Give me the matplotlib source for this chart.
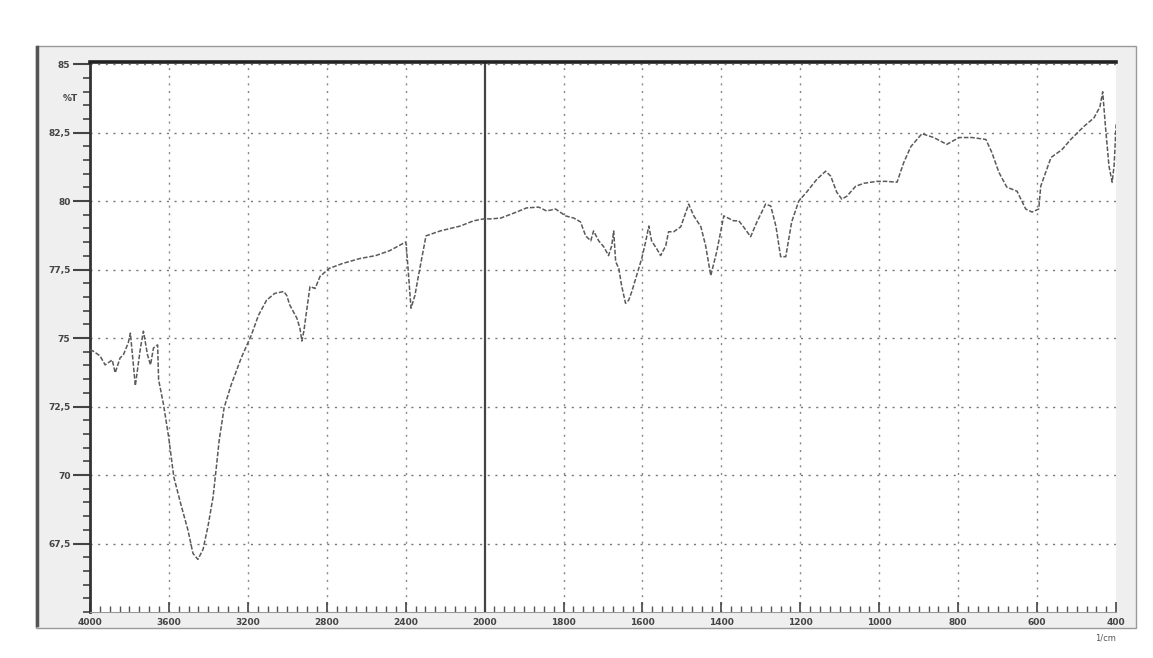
import numpy as np
import matplotlib
matplotlib.use('Agg')
import matplotlib.pyplot as plt
from matplotlib.patches import Rectangle

# FTIR spectrum (wavenumber in 1/cm, %T)
wavenumber = [4000, 3985, 3949, 3923, 3887, 3872, 3847, 3831, 3806, 3795, 3770, 3744,
              3729, 3708, 3693, 3678, 3657, 3652, 3627, 3601, 3575, 3540, 3504, 3478,
              3453, 3427, 3402, 3376, 3361, 3345, 3320, 3284, 3233, 3182, 3146, 3105,
              3064, 3018, 3003, 2987, 2951, 2936, 2926, 2916, 2900, 2885, 2859, 2834,
              2788, 2721, 2634, 2552, 2481, 2399, 2389, 2373, 2353, 2338, 2312, 2297,
              2225, 2123, 2056, 2005,
              1985, 1959, 1919, 1894, 1863, 1843, 1820, 1795, 1774, 1757, 1744, 1731,
              1724, 1711, 1698, 1686, 1678, 1673, 1668, 1660, 1653, 1643, 1635, 1627,
              1615, 1602, 1592, 1584, 1577, 1564, 1554, 1541, 1534, 1521, 1503, 1490,
              1483, 1470, 1452, 1440, 1427, 1412, 1394, 1369, 1356, 1344, 1326, 1310,
              1288, 1275, 1262, 1250, 1237, 1222, 1204, 1184, 1158, 1136, 1123, 1108,
              1095, 1082, 1060, 1039, 1006, 983, 955, 938, 920, 892, 862, 829, 798,
              765, 730, 715, 697, 677, 651, 629, 613, 596, 591, 565, 537, 515, 482,
              456, 441, 434, 427, 418, 410, 405, 400]
transmittance = [74.57, 74.53, 74.35, 74.02, 74.20, 73.73, 74.28, 74.38, 74.82, 75.18, 73.26, 74.64,
                 75.25, 74.38, 74.02, 74.64, 74.75, 73.48, 72.57, 71.38, 69.93, 68.95, 68.01, 67.14,
                 66.92, 67.28, 68.12, 69.20, 70.18, 71.27, 72.46, 73.30, 74.28, 75.11, 75.83, 76.38,
                 76.63, 76.70, 76.56, 76.20, 75.72, 75.36, 74.89, 75.25, 76.09, 76.88, 76.81, 77.25,
                 77.54, 77.72, 77.90, 78.01, 78.19, 78.51, 77.64, 76.09, 76.56, 77.17, 78.15, 78.73,
                 78.91, 79.09, 79.28, 79.35,
                 79.35, 79.38, 79.60, 79.75, 79.78, 79.64, 79.71, 79.46, 79.38, 79.24, 78.73, 78.55,
                 78.91, 78.55, 78.33, 78.01, 78.37, 78.91, 77.79, 77.54, 76.92, 76.27, 76.38, 76.70,
                 77.28, 77.90, 78.51, 79.09, 78.55, 78.26, 78.01, 78.37, 78.88, 78.88, 79.06, 79.60,
                 79.89, 79.46, 79.06, 78.37, 77.28, 78.15, 79.46, 79.28, 79.28, 79.06, 78.70, 79.24,
                 79.89, 79.82, 79.09, 77.97, 77.97, 79.24, 80.00, 80.33, 80.80, 81.09, 80.91, 80.33,
                 80.07, 80.18, 80.54, 80.65, 80.72, 80.72, 80.69, 81.41, 81.99, 82.46, 82.32, 82.07, 82.32,
                 82.32, 82.25, 81.78, 81.05, 80.51, 80.36, 79.71, 79.60, 79.71, 80.54, 81.59, 81.88, 82.25, 82.72,
                 83.04, 83.44, 83.99, 82.72, 81.27, 80.69, 81.30, 82.80]

x_major = [4000, 3600, 3200, 2800, 2400, 2000, 1800, 1600, 1400, 1200, 1000, 800, 600, 400]
y_major = [67.5, 70, 72.5, 75, 77.5, 80, 82.5, 85]
y_labels = ['67,5', '70', '72,5', '75', '77,5', '80', '82,5', '85']


# scale is twice as wide below 2000 1/cm
def fwd(w):
    w = np.asarray(w, dtype=float)
    return np.where(w >= 2000, w, 2 * w - 2000)


def inv(u):
    u = np.asarray(u, dtype=float)
    return np.where(u >= 2000, u, (u + 2000) / 2)


fig = plt.figure(figsize=(11.53, 6.58), dpi=100)
fig.patch.set_facecolor('white')

# scanned paper frame around the chart
fig.patches.append(Rectangle((0.031, 0.045), 0.954, 0.885, transform=fig.transFigure,
                             facecolor='#efefef', edgecolor='#9a9a9a', lw=1.0, zorder=-2))
fig.lines.append(plt.Line2D([0.032, 0.032], [0.05, 0.928], transform=fig.transFigure,
                            color='#555555', lw=2.5, zorder=-1))

ax = fig.add_axes([0.078, 0.0699, 0.890, 0.836])
ax.set_zorder(1)
ax.set_facecolor('white')
ax.set_xscale('function', functions=(fwd, inv))
ax.set_xlim(4000, 400)
ax.set_ylim(65.0, 85.08)

minor_x = list(range(4000, 2000, -50)) + list(range(2000, 399, -25))
ax.set_xticks(x_major)
ax.set_xticklabels([str(v) for v in x_major])
ax.set_xticks(minor_x, minor=True)
ax.set_yticks(y_major)
ax.set_yticklabels(y_labels)
ax.set_yticks(np.arange(65.0, 85.01, 0.5), minor=True)

ax.tick_params(axis='x', which='major', direction='in', length=7, width=1.2,
               colors='#444444', labelsize=6.5, pad=4)
ax.tick_params(axis='x', which='minor', direction='in', length=4, width=1, color='#555555')
ax.tick_params(axis='y', which='major', direction='out', length=12, width=1.5,
               colors='#444444', labelsize=6.5, pad=2)
ax.tick_params(axis='y', which='minor', direction='out', length=5, width=1.2, color='#444444')
for lab in ax.get_xticklabels() + ax.get_yticklabels():
    lab.set_fontweight('bold')

# dotted grid, solid line at 2000
for v in x_major[1:-1]:
    if v == 2000:
        ax.axvline(v, color='#444444', lw=1.6, zorder=2)
    else:
        ax.axvline(v, color='#888888', lw=1.0, ls=(0, (1.5, 4)), zorder=1)
for v in y_major:
    ax.axhline(v, color='#777777', lw=1.0, ls=(0, (1.5, 4)), zorder=1)

ax.plot(wavenumber, transmittance, color='#5a5a5a', lw=1.1, ls=(0, (3, 1.2)), zorder=3)

ax.spines['top'].set_linewidth(2.6)
ax.spines['top'].set_color('#222222')
ax.spines['left'].set_linewidth(2.0)
ax.spines['left'].set_color('#333333')
ax.spines['bottom'].set_linewidth(0.8)
ax.spines['bottom'].set_color('#999999')
ax.spines['right'].set_visible(False)

ax.text(-0.012, 83.75, '%T', transform=ax.get_yaxis_transform(), ha='right', va='center',
        fontsize=6.5, fontweight='bold', color='#444444')
ax.text(1.0, -0.048, '1/cm', transform=ax.transAxes, ha='right', va='center',
        fontsize=6, color='#555555')

fig.savefig('out.png', dpi=100)
